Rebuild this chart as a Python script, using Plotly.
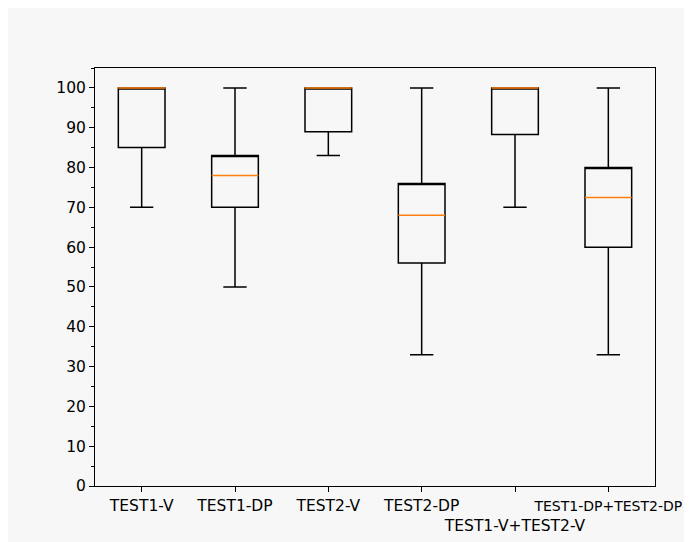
import plotly.graph_objects as go

categories = ["TEST1-V", "TEST1-DP", "TEST2-V", "TEST2-DP", "TEST1-V+TEST2-V", "TEST1-DP+TEST2-DP"]
tick_labels = ["TEST1-V", "TEST1-DP", "TEST2-V", "TEST2-DP", "<br>TEST1-V+TEST2-V",
               "<span style='font-size:14px'>TEST1-DP+TEST2-DP</span>"]
positions = [1, 2, 3, 4, 5, 6]
lower_whisker = [70, 50, 83, 33, 70, 33]
q1_vals = [85, 70, 89, 56, 88.3, 60]
median_vals = [100, 78, 100, 68, 100, 72.5]
q3_vals = [100, 83, 100, 76, 100, 80]
upper_whisker = [100, 100, 100, 100, 100, 100]
y_ticks = [0, 10, 20, 30, 40, 50, 60, 70, 80, 90, 100]

BG = "#f7f7f7"
FONT = "DejaVu Sans"

fig = go.Figure()
# black boxes and whiskers (their own median line is hidden on the box top edge)
fig.add_trace(go.Box(
    x=positions, q1=q1_vals, median=q3_vals, q3=q3_vals,
    lowerfence=lower_whisker, upperfence=upper_whisker,
    width=0.5, whiskerwidth=0.5,
    line=dict(color="black", width=1.5),
    fillcolor="rgba(0,0,0,0)", boxpoints=False,
    hoverinfo="skip", showlegend=False,
))
# orange median lines drawn as flat boxes at the median value
fig.add_trace(go.Box(
    x=positions, q1=median_vals, median=median_vals, q3=median_vals,
    lowerfence=median_vals, upperfence=median_vals,
    width=0.5, whiskerwidth=0,
    line=dict(color="#ff7f0e", width=1.5),
    fillcolor="rgba(0,0,0,0)", boxpoints=False,
    hoverinfo="skip", showlegend=False,
))

fig.update_layout(
    width=684, height=534,
    margin=dict(l=87, r=37, t=60, b=56),
    paper_bgcolor=BG, plot_bgcolor=BG,
    boxmode="overlay",
    font=dict(family=FONT, size=15.5, color="black"),
    xaxis=dict(
        range=[0.5, 6.5], tickmode="array", tickvals=positions, ticktext=tick_labels,
        tickangle=0, automargin=False, ticklabeloverflow="allow",
        showline=True, linecolor="black", linewidth=1, mirror=True,
        ticks="outside", ticklen=5, tickcolor="black", tickwidth=1,
        showgrid=False, zeroline=False,
    ),
    yaxis=dict(
        range=[0, 105], tickmode="array", tickvals=y_ticks, automargin=False,
        showline=True, linecolor="black", linewidth=1, mirror=True,
        ticks="outside", ticklen=5, tickcolor="black", tickwidth=1,
        showgrid=False, zeroline=False,
        minor=dict(dtick=5, tick0=0, ticks="outside", ticklen=3, tickcolor="black", showgrid=False),
    ),
)

fig.write_html("out.html")
